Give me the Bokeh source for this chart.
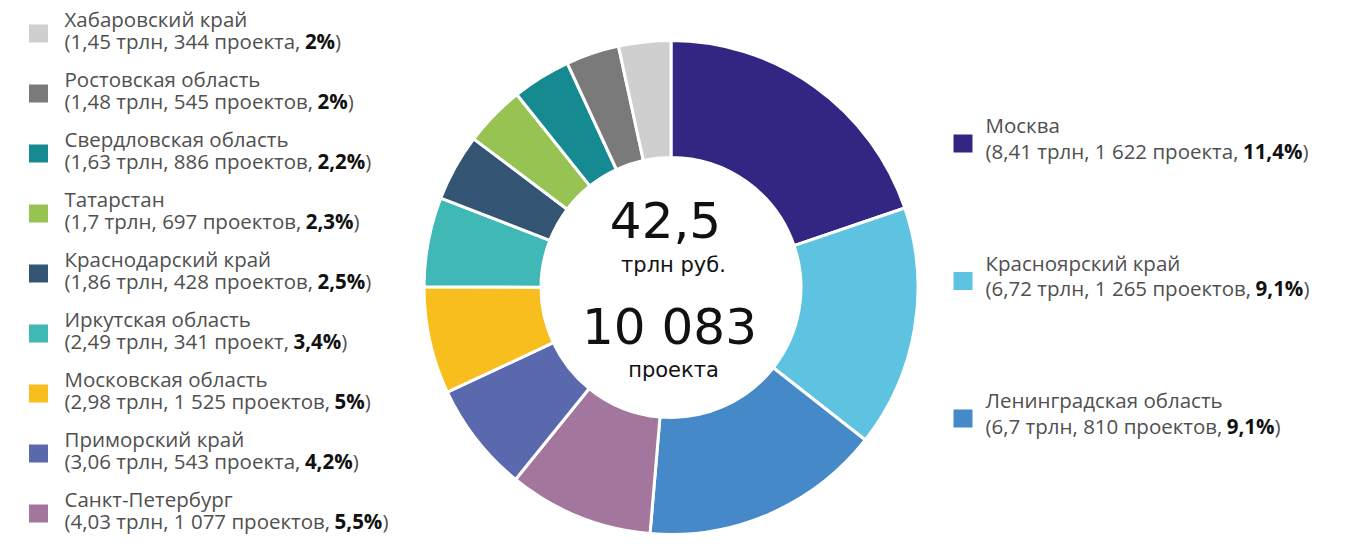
import glob, os, struct, math
from bokeh.plotting import figure
from bokeh.models import Range1d, ColumnDataSource
from bokeh.core.properties import value
from bokeh.embed import file_html
from bokeh.resources import INLINE

# ---------------- data ----------------
regions = ["Москва", "Красноярский край", "Ленинградская область", "Санкт-Петербург",
           "Приморский край", "Московская область", "Иркутская область", "Краснодарский край",
           "Татарстан", "Свердловская область", "Ростовская область", "Хабаровский край"]
trillions = [8.41, 6.72, 6.7, 4.03, 3.06, 2.98, 2.49, 1.86, 1.7, 1.63, 1.48, 1.45]
projects = ["1 622 проекта", "1 265 проектов", "810 проектов", "1 077 проектов",
            "543 проекта", "1 525 проектов", "341 проект", "428 проектов",
            "697 проектов", "886 проектов", "545 проектов", "344 проекта"]
shares = ["11,4%", "9,1%", "9,1%", "5,5%", "4,2%", "5%", "3,4%", "2,5%",
          "2,3%", "2,2%", "2%", "2%"]
colors = ["#312783", "#5EC3E0", "#4589C8", "#A3779D", "#5A68AE", "#F7BE1E",
          "#40B8B5", "#345473", "#97C353", "#158B91", "#7A7A7A", "#CFCFCF"]
total_label = "42,5"
total_unit = "трлн руб."
projects_label = "10 083"
projects_unit = "проекта"

# ---------------- font metrics ----------------
def _find(patterns):
    roots = ["/usr/share/fonts", "/usr/local/share/fonts",
             os.path.expanduser("~/.fonts"), os.path.expanduser("~/.local/share/fonts")]
    for pat in patterns:
        for r in roots:
            hits = sorted(glob.glob(os.path.join(r, "**", pat), recursive=True))
            if hits:
                return hits[0]
    return None

def _loader(path):
    data = open(path, "rb").read()
    nt = struct.unpack(">H", data[4:6])[0]
    tabs = {}
    for i in range(nt):
        tag, cs, off, ln = struct.unpack(">4sIII", data[12 + 16 * i:28 + 16 * i])
        tabs[tag.decode("latin1")] = off
    head = tabs["head"]
    upem = struct.unpack(">H", data[head + 18:head + 20])[0]
    hhea = tabs["hhea"]
    nhm = struct.unpack(">H", data[hhea + 34:hhea + 36])[0]
    hm = tabs["hmtx"]
    adv = [struct.unpack(">H", data[hm + 4 * i:hm + 4 * i + 2])[0] for i in range(nhm)]
    cm = tabs["cmap"]
    n = struct.unpack(">H", data[cm + 2:cm + 4])[0]
    sub = None
    for i in range(n):
        pid, eid, off = struct.unpack(">HHI", data[cm + 4 + 8 * i:cm + 12 + 8 * i])
        fmt = struct.unpack(">H", data[cm + off:cm + off + 2])[0]
        if fmt == 4:
            sub = cm + off
            break
    segx2 = struct.unpack(">H", data[sub + 6:sub + 8])[0]
    seg = segx2 // 2
    ends = struct.unpack(">%dH" % seg, data[sub + 14:sub + 14 + segx2])
    starts = struct.unpack(">%dH" % seg, data[sub + 16 + segx2:sub + 16 + 2 * segx2])
    deltas = struct.unpack(">%dh" % seg, data[sub + 16 + 2 * segx2:sub + 16 + 3 * segx2])
    rpos = sub + 16 + 3 * segx2
    roffs = struct.unpack(">%dH" % seg, data[rpos:rpos + segx2])

    def gid(c):
        for k in range(seg):
            if ends[k] >= c:
                if starts[k] > c:
                    return 0
                if roffs[k] == 0:
                    return (c + deltas[k]) & 0xFFFF
                a = rpos + 2 * k + roffs[k] + 2 * (c - starts[k])
                g = struct.unpack(">H", data[a:a + 2])[0]
                return (g + deltas[k]) & 0xFFFF if g else 0
        return 0

    def width(s, size):
        return sum(adv[min(gid(ord(ch)), nhm - 1)] for ch in s) * size / upem
    return width

def _fallback(s, size):
    return len(s) * 0.56 * size

try:
    _rp = _find(["OpenSans-Regular.ttf", "OpenSans[[]*.ttf", "OpenSans*.ttf"])
    w_reg = _loader(_rp)
except Exception:
    w_reg = _fallback
try:
    _bp = _find(["OpenSans-Bold.ttf"])
    w_bold = _loader(_bp)
except Exception:
    w_bold = lambda s, size: w_reg(s, size) * 1.07

# ---------------- figure ----------------
W, H = 1332, 535
p = figure(width=W, height=H, output_backend="svg", toolbar_location=None,
           x_range=Range1d(0, W), y_range=Range1d(0, H), min_border=0)
p.axis.visible = False
p.grid.visible = False
p.outline_line_color = None
p.background_fill_color = "white"
p.border_fill_color = "white"

def X(xi):
    return xi

def Y(yi):
    return H - yi

def TB(baseline, size):
    # anchor for a text whose alphabetic baseline should sit at `baseline`
    return Y(baseline - 0.42 * size)

# donut
cx, cy = X(670.5), Y(287)
tot = sum(trillions)
cum = [0.0]
for v in trillions:
    cum.append(cum[-1] + v)
starts_a = [math.pi / 2 - 2 * math.pi * cum[i + 1] / tot for i in range(len(trillions))]
ends_a = [math.pi / 2 - 2 * math.pi * cum[i] / tot for i in range(len(trillions))]
src = ColumnDataSource(dict(start=starts_a, end=ends_a, color=colors))
p.annular_wedge(x=cx, y=cy, inner_radius=130, outer_radius=247,
                start_angle="start", end_angle="end", fill_color="color",
                line_color="white", line_width=3, source=src)

# centre texts
CF = value("DejaVu Sans")
for txt, xc, base, size in [(total_label, 665, 240, 50), (total_unit, 673, 273, 21),
                            (projects_label, 669, 347, 50), (projects_unit, 673, 378, 21)]:
    p.text(x=[X(xc)], y=[TB(base, size)], text=[txt], text_font=CF,
           text_font_size="%dpx" % size, text_align="center",
           text_baseline="alphabetic", text_color="#111111")

# legend
LF = value("Open Sans")
FS = 20.5
FSs = "%.1fpx" % FS

def fmt_num(v):
    return ("%g" % v).replace(".", ",")

def legend_item(i, sq_x, sq_y, tx, up=6.3):
    b1, b2 = sq_y - up, sq_y + 16
    p.rect(x=[X(sq_x)], y=[Y(sq_y)], width=19, height=18, fill_color=colors[i], line_color=None)
    p.text(x=[X(tx)], y=[TB(b1, FS)], text=[regions[i]], text_font=LF, text_font_size=FSs,
           text_baseline="alphabetic", text_color="#505050")
    pre = "(" + fmt_num(trillions[i]) + " трлн, " + projects[i] + ", "
    wpre = w_reg(pre, FS)
    wb = w_bold(shares[i], FS)
    p.text(x=[X(tx)], y=[TB(b2, FS)], text=[pre], text_font=LF, text_font_size=FSs,
           text_baseline="alphabetic", text_color="#505050")
    p.text(x=[X(tx) + wpre], y=[TB(b2, FS)], text=[shares[i]], text_font=LF, text_font_size=FSs,
           text_font_style="bold", text_baseline="alphabetic", text_color="#111111")
    p.text(x=[X(tx) + wpre + wb], y=[TB(b2, FS)], text=[")"], text_font=LF, text_font_size=FSs,
           text_baseline="alphabetic", text_color="#505050")

# right side (first three regions)
for k in range(3):
    legend_item(k, 962.5, 143 + k * 137.5, 985, up=9.5)

# left side (remaining, listed bottom-up)
left = list(range(len(regions) - 1, 2, -1))
for k, i in enumerate(left):
    legend_item(i, 38, 33 + k * 60.0, 64)

open("out.html", "w").write(file_html(p, INLINE))
